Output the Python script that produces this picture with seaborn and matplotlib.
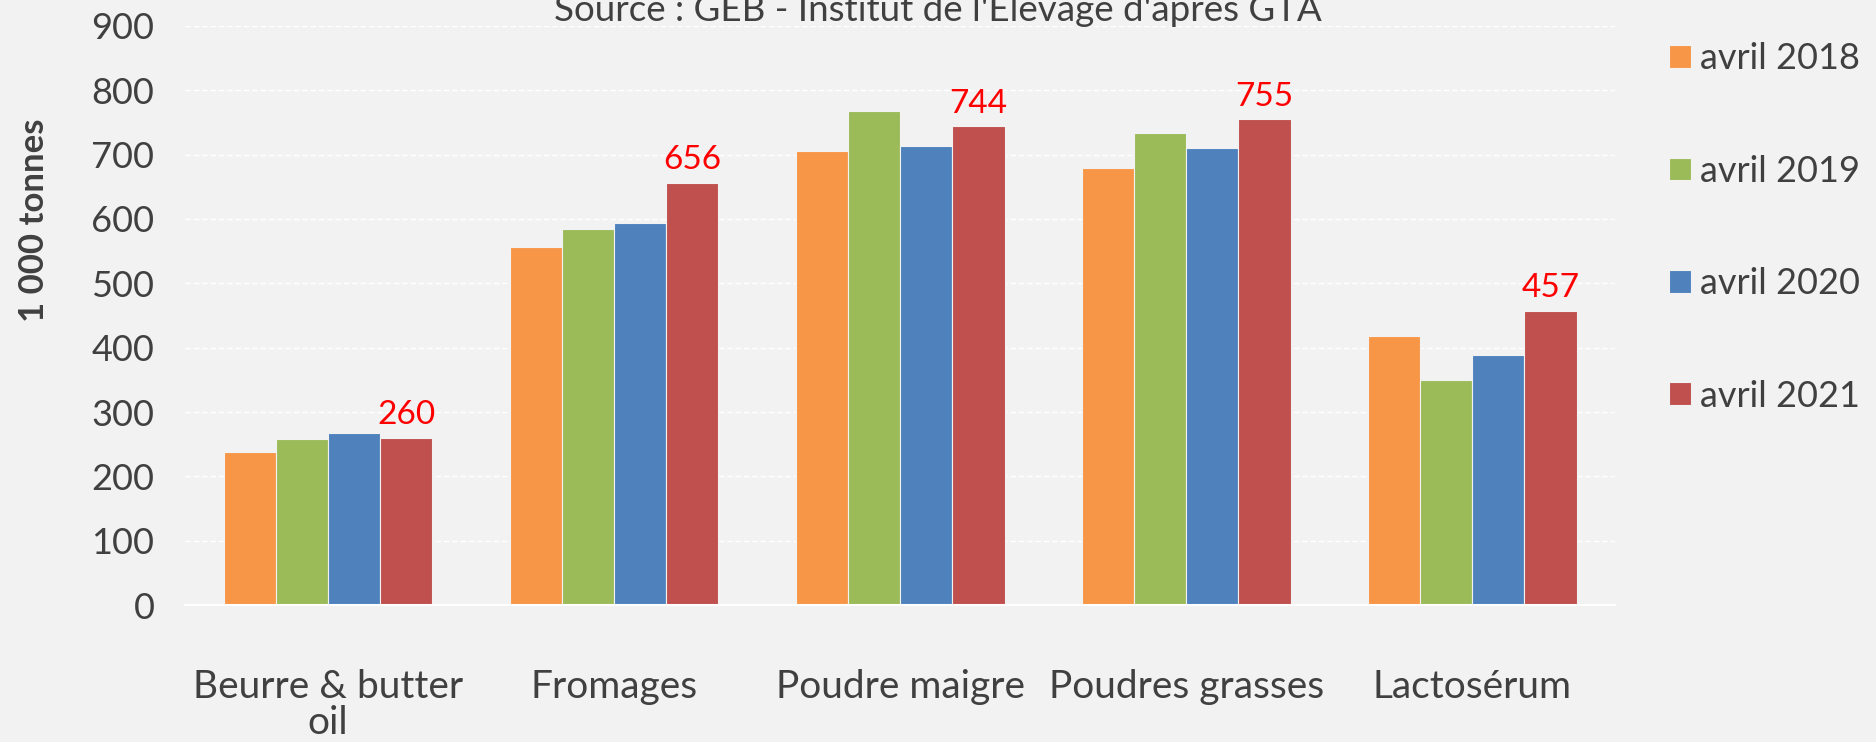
import pandas as pd
import matplotlib.pyplot as plt
import seaborn as sns
from matplotlib.ticker import MultipleLocator, FixedLocator

# data (1 000 tonnes)
produits = ["Beurre & butter\noil", "Fromages", "Poudre maigre", "Poudres grasses", "Lactosérum"]
periodes = ["avril 2018", "avril 2019", "avril 2020", "avril 2021"]
avril_2018 = [238, 556, 705, 679, 418]
avril_2019 = [258, 584, 768, 734, 350]
avril_2020 = [268, 593, 714, 710, 389]
avril_2021 = [260, 656, 744, 755, 457]

couleurs = ["#F79646", "#9BBB59", "#4F81BD", "#C0504D"]
fond = "#F2F2F2"
gris = "#404040"

rows = []
for per, vals in zip(periodes, [avril_2018, avril_2019, avril_2020, avril_2021]):
    for p, v in zip(produits, vals):
        rows.append({"produit": p, "periode": per, "valeur": v})
df = pd.DataFrame(rows)

sns.set_style("white")
plt.rcParams['font.family'] = ['Lato', 'DejaVu Sans']

fig = plt.figure(figsize=(18.76, 7.42), dpi=100, facecolor=fond)
ax = fig.add_axes([0.0986, 0.1846, 0.7624, 0.7804], facecolor=fond)

sns.barplot(data=df, x="produit", y="valeur", hue="periode", order=produits,
            hue_order=periodes, palette=couleurs, width=0.73, ax=ax,
            edgecolor="#F2F2F2", linewidth=0.8, saturation=1, errorbar=None)

# red labels above the 2021 bars
for i, v in enumerate(avril_2021):
    ax.text(i + 0.73 * 3 / 8, v + 12, str(v), color="red", fontsize=24,
            ha="center", va="bottom")

ax.set_xlim(-0.5, len(produits) - 0.5)
ax.set_ylim(0, 900)
ax.yaxis.set_major_locator(MultipleLocator(100))
ax.grid(axis="y", color="white", linestyle=(0, (4, 2)), linewidth=1)
ax.set_axisbelow(True)
for s in ["top", "right", "left"]:
    ax.spines[s].set_visible(False)
ax.spines["bottom"].set_color("white")
ax.spines["bottom"].set_linewidth(1.5)

ax.xaxis.set_minor_locator(FixedLocator([k - 0.5 for k in range(len(produits) + 1)]))
ax.tick_params(axis="x", which="minor", length=11, width=1.5, color="white", direction="out")
ax.tick_params(axis="x", which="major", length=0, pad=46, labelsize=28, labelcolor=gris)
ax.tick_params(axis="y", length=0, pad=22, labelsize=26, labelcolor=gris)
for lab in ax.get_xticklabels():
    lab.set_linespacing(1.0)
ax.set_xlabel("")
ax.set_ylabel("")

fig.text(0.018, 0.703, "1 000 tonnes", rotation=90, fontsize=25, fontweight="bold",
         color=gris, ha="center", va="center")
fig.text(0.5, 1 - 21 / 742, "Source : GEB - Institut de l'Elevage d'après GTA",
         fontsize=26.5, color=gris, ha="center", va="baseline")

leg = ax.legend(loc="center left", bbox_to_anchor=(1.015, 0.652), frameon=False,
                fontsize=26, labelspacing=2.2, handlelength=0.6, handleheight=0.6,
                handletextpad=0.25, labelcolor=gris)

plt.savefig("out.png", dpi=100, facecolor=fond)
